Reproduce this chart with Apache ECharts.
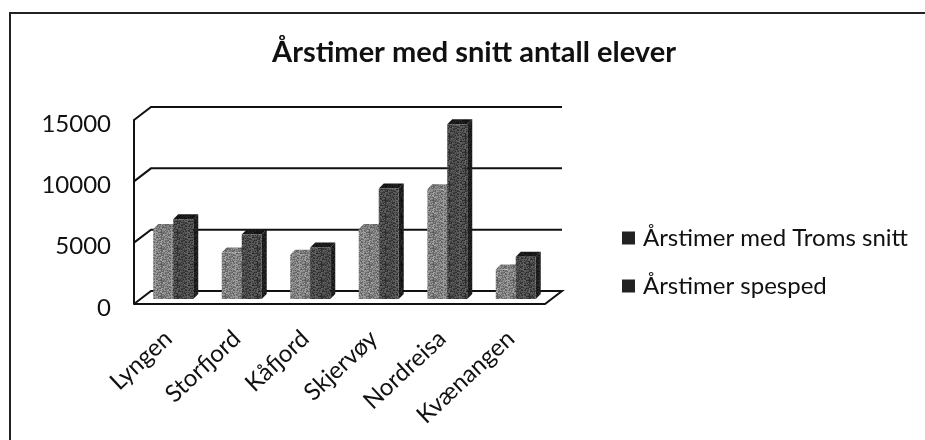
<!DOCTYPE html>
<html>
<head>
<meta charset="utf-8">
<script src="https://cdn.jsdelivr.net/npm/echarts@6/dist/echarts.min.js"></script>
<style>
  html, body { margin: 0; padding: 0; background: #fff; }
  #chart { width: 925px; height: 440px; }
</style>
</head>
<body>
<div id="chart"></div>
<script>
const categories = ['Lyngen', 'Storfjord', 'Kåfjord', 'Skjervøy', 'Nordreisa', 'Kvænangen']
const tromsSnitt = [5700, 3800, 3600, 5700, 8950, 2400]
const spesped = [6500, 5250, 4200, 9000, 14250, 3450]
const yTicks = [0, 5000, 10000, 15000]

const seriesNames = ['Årstimer med Troms snitt', 'Årstimer spesped']
const FONT = 'Lato, "Open Sans", sans-serif'

// depth of the fake 3d box
const WALL_DX = 17, WALL_DY = -13
const BAR_DX = 5, BAR_DY = -5
const BAR_W = 20, BAR_DEPTH_X = 5, BAR_DEPTH_Y = -5

// scanned look: small repeating grain
function grain(base, spread) {
  const c = document.createElement('canvas')
  c.width = c.height = 16
  const ctx = c.getContext('2d')
  for (let y = 0; y < 16; y++) {
    for (let x = 0; x < 16; x++) {
      const n = ((x * 7 + y * 13 + (x * y) % 5 * 3) % 8) / 7 - 0.5
      const v = Math.round(base + n * spread)
      ctx.fillStyle = `rgb(${v},${v},${v})`
      ctx.fillRect(x, y, 1, 1)
    }
  }
  return { image: c, repeat: 'repeat' }
}

const faces = [
  { front: grain(128, 70), side: grain(90, 60), top: grain(120, 60) },
  { front: grain(72, 60), side: grain(30, 30), top: grain(25, 20) }
]

function poly(points, fill) {
  return { type: 'polygon', shape: { points }, style: { fill, stroke: null } }
}

const renderBar = seriesIdx => (params, api) => {
  const cx = api.coord([api.value(0), 0])[0] + BAR_DX
  const base = api.coord([api.value(0), 0])[1] + BAR_DY
  const top = api.coord([api.value(0), api.value(1)])[1] + BAR_DY
  const l = seriesIdx === 0 ? cx - BAR_W : cx
  const r = l + BAR_W
  const f = faces[seriesIdx]
  return {
    type: 'group',
    children: [
      poly([[r, base], [r + BAR_DEPTH_X, base + BAR_DEPTH_Y], [r + BAR_DEPTH_X, top + BAR_DEPTH_Y], [r, top]], f.side),
      poly([[l, top], [r, top], [r + BAR_DEPTH_X, top + BAR_DEPTH_Y], [l + BAR_DEPTH_X, top + BAR_DEPTH_Y]], f.top),
      poly([[l, base], [r, base], [r, top], [l, top]], f.front)
    ]
  }
}

// back wall lines and floor, all placed from the value axis
const renderWall = (params, api) => {
  const cs = params.coordSys
  const y = api.coord([0, api.value(0)])[1]
  const left = cs.x, right = cs.x + cs.width
  const line = pts => ({
    type: 'polyline',
    shape: { points: pts },
    style: { stroke: '#111', lineWidth: 2, fill: null }
  })
  if (api.value(0) === 0) {
    return line([
      [left, y], [right, y], [right + WALL_DX, y + WALL_DY],
      [left + WALL_DX, y + WALL_DY], [left, y]
    ])
  }
  return line([[left, y], [left + WALL_DX, y + WALL_DY], [right + WALL_DX, y + WALL_DY]])
}

const chart = echarts.init(document.getElementById('chart'), null, { renderer: 'canvas' })

chart.setOption({
  backgroundColor: '#fff',
  animation: false,
  textStyle: { fontFamily: FONT },
  title: {
    text: 'Årstimer med snitt antall elever',
    left: 469,
    top: 33,
    textAlign: 'center',
    textStyle: { fontFamily: FONT, fontSize: 29, fontWeight: 'bold', color: '#111' }
  },
  legend: {
    orient: 'vertical',
    left: 617,
    top: 221,
    icon: 'rect',
    itemWidth: 13,
    itemHeight: 13,
    itemGap: 24,
    itemStyle: { color: '#222' },
    textStyle: { fontFamily: FONT, fontSize: 24, color: '#111', padding: [0, 0, 0, 3] },
    data: seriesNames
  },
  grid: { left: 134, right: 380, top: 120, bottom: 136 },
  xAxis: {
    type: 'category',
    data: categories,
    axisTick: { show: false },
    axisLine: { show: false },
    axisLabel: { rotate: 43, margin: 31, interval: 0, fontSize: 24, color: '#111', fontFamily: FONT }
  },
  yAxis: {
    type: 'value',
    min: 0,
    max: 15000,
    interval: 5000,
    axisTick: { show: false },
    axisLine: { show: true, lineStyle: { color: '#111', width: 2 } },
    splitLine: { show: false },
    axisLabel: {
      margin: 23,
      fontSize: 24,
      color: '#111',
      fontFamily: FONT,
      verticalAlign: 'top',
      padding: [-8, 0, 0, 0],
      formatter: v => String(v)
    }
  },
  graphic: [{
    type: 'polyline',
    shape: { points: [[10, 440], [10, 13], [925, 13]] },
    style: { fill: null, stroke: '#222', lineWidth: 2 },
    silent: true
  }],
  series: [
    {
      type: 'custom',
      name: 'wall',
      renderItem: renderWall,
      data: yTicks.map(v => [v]),
      encode: { y: 0 },
      z: 1,
      silent: true
    },
    {
      type: 'custom',
      name: seriesNames[0],
      renderItem: renderBar(0),
      data: tromsSnitt.map((v, i) => [i, v]),
      encode: { x: 0, y: 1 },
      itemStyle: { color: '#222' },
      z: 2
    },
    {
      type: 'custom',
      name: seriesNames[1],
      renderItem: renderBar(1),
      data: spesped.map((v, i) => [i, v]),
      encode: { x: 0, y: 1 },
      itemStyle: { color: '#222' },
      z: 3
    }
  ]
})
</script>
</body>
</html>
